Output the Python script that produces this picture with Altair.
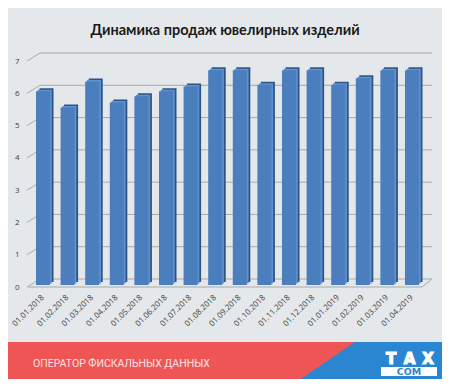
import altair as alt
import pandas as pd

dates = ["01.01.2018", "01.02.2018", "01.03.2018", "01.04.2018", "01.05.2018",
         "01.06.2018", "01.07.2018", "01.08.2018", "01.09.2018", "01.10.2018",
         "01.11.2018", "01.12.2018", "01.01.2019", "01.02.2019", "01.03.2019",
         "01.04.2019"]
values = [6.0, 5.5, 6.3, 5.65, 5.85, 6.0, 6.15, 6.65, 6.65, 6.2,
          6.65, 6.65, 6.2, 6.4, 6.65, 6.65]
y_ticks = [0, 1, 2, 3, 4, 5, 6, 7]
title_text = "Динамика продаж ювелирных изделий"
banner_text = "ОПЕРАТОР ФИСКАЛЬНЫХ ДАННЫХ"
logo_top = ["T", "A", "X"]
logo_bottom = "COM"

W, H = 399, 226
BG = "#e5e8ea"

df = pd.DataFrame({"date": dates, "value": values})
ticks_df = pd.DataFrame({"value": y_ticks})
one = pd.DataFrame({"value": [0]})

xs = alt.Scale(domain=dates, paddingInner=0.43, paddingOuter=0.325)
ys = alt.Scale(domain=[0, 7], nice=False, zero=True)

x_axis = alt.Axis(title=None, labelAngle=-45, labelAlign="right",
                  labelBaseline="middle", labelPadding=9, ticks=False,
                  domain=False, labelFontSize=8, labelColor="#404040",
                  labelFont="Open Sans")
y_axis = alt.Axis(title=None, values=y_ticks, grid=False, ticks=False,
                  domain=False, labelPadding=9, labelFontSize=8,
                  labelColor="#404040", labelFont="Open Sans")

x_enc = alt.X("date:N", scale=xs, sort=dates, axis=x_axis)
y_enc = alt.Y("value:Q", scale=ys, axis=y_axis)

# background banner
red = alt.Chart(one).mark_rect(color="#f05556").encode(
    x=alt.value(-20), x2=alt.value(420), y=alt.value(281), y2=alt.value(330))
blue = alt.Chart(one).mark_point(
    shape="M 327 281 L 425 281 L 425 330 L 255 330 Z", size=4, filled=True,
    color="#2a86d1", opacity=1, strokeWidth=0).encode(
    x=alt.value(0), y=alt.value(0))

grid = alt.Chart(ticks_df).mark_rule(color="#a8a8a8", strokeWidth=1, yOffset=-8).encode(
    x=alt.value(12), x2=alt.value(404), y=y_enc)
diag = alt.Chart(ticks_df).mark_rule(color="#a8a8a8", strokeWidth=1, y2Offset=-8).encode(
    x=alt.value(-1), x2=alt.value(12), y=y_enc, y2="value:Q")
floor = alt.Chart(one).mark_rule(color="#a8a8a8", strokeWidth=1).encode(
    x=alt.value(0), x2=alt.value(394), y=y_enc)
floor_r = alt.Chart(one).mark_rule(color="#a8a8a8", strokeWidth=1, y2Offset=-8).encode(
    x=alt.value(394), x2=alt.value(404), y=y_enc, y2="value:Q")

side = alt.Chart(df).mark_bar(color="#2c5485", xOffset=3.5, yOffset=-5, y2Offset=-5).encode(
    x=x_enc, y=y_enc)
top = alt.Chart(df).mark_bar(color="#5f90cf", xOffset=1.75, yOffset=-3.5, y2Offset=-3.5).encode(
    x=x_enc, y=y_enc)
front = alt.Chart(df).mark_bar(color="#4a7ebd", yOffset=-2, y2Offset=-2).encode(
    x=x_enc, y=y_enc)

title = alt.Chart(pd.DataFrame({"t": [title_text]})).mark_text(
    fontSize=14.5, fontWeight="bold", font="Lato", color="#1a1a1a",
    align="center", baseline="middle").encode(
    x=alt.value(197), y=alt.value(-30), text="t:N")

banner = alt.Chart(pd.DataFrame({"t": [banner_text]})).mark_text(
    fontSize=10.5, font="Roboto", color="#fde3e3", align="left",
    baseline="middle").encode(x=alt.value(5), y=alt.value(303), text="t:N")

def logo_letter(ch, xpos):
    return alt.Chart(pd.DataFrame({"t": [ch]})).mark_text(
        fontSize=15, fontWeight="bold", font="DejaVu Sans", color="white",
        stroke="white", strokeWidth=1.2, align="center", baseline="middle").encode(
        x=alt.value(xpos), y=alt.value(297.5), text="t:N")

logo_T = logo_letter(logo_top[0], 363)
logo_A = logo_letter(logo_top[1], 381.5)
logo_X = logo_letter(logo_top[2], 400)
logo_box = alt.Chart(one).mark_rect(color="white").encode(
    x=alt.value(353), x2=alt.value(409), y=alt.value(306), y2=alt.value(315))
logo2 = alt.Chart(pd.DataFrame({"t": [logo_bottom]})).mark_text(
    fontSize=9.5, fontWeight="bold", font="DejaVu Sans", color="#2a86d1",
    align="center", baseline="middle").encode(
    x=alt.value(381), y=alt.value(310.8), text="t:N")

chart = alt.layer(
    red, blue, grid, diag, floor, floor_r, side, top, front,
    title, banner, logo_box, logo2, logo_T, logo_A, logo_X
).properties(
    width=W, height=H,
    padding={"left": 20, "top": 53, "right": 15, "bottom": 92},
    autosize=alt.AutoSizeParams(type="none"),
).configure(background=BG).configure_view(strokeWidth=0)

chart.save("out.html", embed_options={"renderer": "svg", "actions": False})
